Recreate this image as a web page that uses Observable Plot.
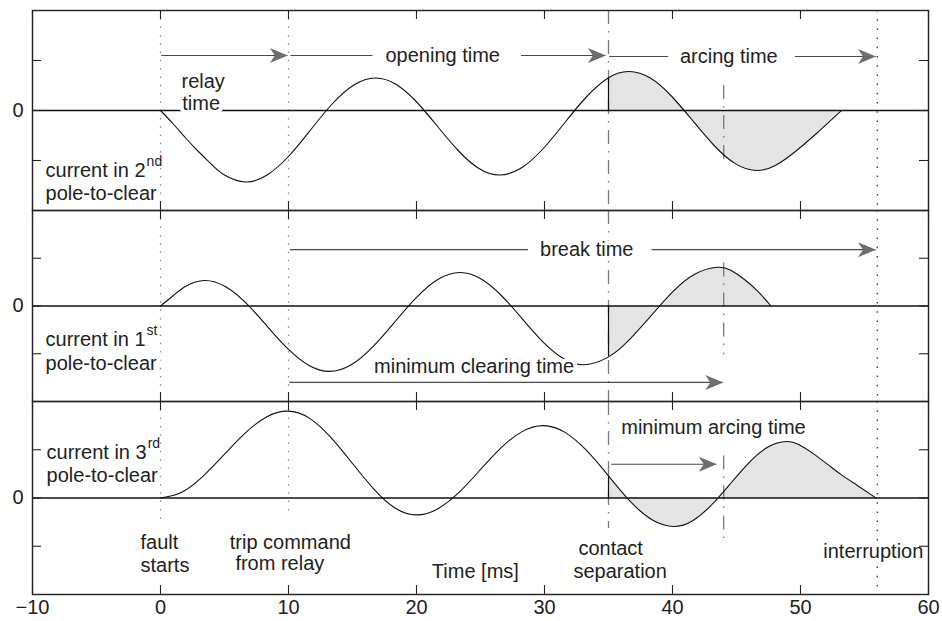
<!DOCTYPE html>
<html><head><meta charset="utf-8">
<script src="https://cdn.jsdelivr.net/npm/d3@7"></script>
<script src="https://cdn.jsdelivr.net/npm/@observablehq/plot@0.6"></script>
<style>
body{margin:0;background:#fff;}
#chart svg{display:block;}
</style></head><body><div id="chart"></div>
<script>
const FONT = "'Liberation Sans', Arial, Helvetica, sans-serif";
const panels = ["2nd", "1st", "3rd"];
const xTicks = [-10, 0, 10, 20, 30, 40, 50, 60];
const yTicks = [-1, 0, 1];
const yLabelTicks = [0];
const xDomain = [-10, 60];
const yDomain = [-2, 2];
const tSep = 35;

// currents (time ms, value)
const pole2T = [0, 1, 2, 3, 4, 5, 6.64, 8.33, 10.03, 11.72, 13.41, 15.11, 16.8, 18.42, 20.03, 21.65, 23.27, 24.88, 26.5, 28.18, 29.87, 31.55, 33.23, 35, 36.6, 38.27, 39.93, 41.6, 43.27, 44.93, 46.6, 48.1, 49.6, 51.2, 53.2];
const pole2V = [0, -0.27, -0.56, -0.83, -1.08, -1.29, -1.43, -1.29, -0.91, -0.39, 0.13, 0.51, 0.65, 0.52, 0.165, -0.32, -0.805, -1.16, -1.29, -1.15, -0.77, -0.255, 0.26, 0.655, 0.78, 0.65, 0.285, -0.21, -0.705, -1.067, -1.2, -1.09, -0.82, -0.47, 0];
const pole1T = [0, 1, 2, 3.43, 5.06, 6.69, 8.32, 9.94, 11.57, 13.2, 14.9, 16.6, 18.3, 20.0, 21.7, 23.4, 25.02, 26.63, 28.25, 29.87, 31.48, 33.1, 35, 36.57, 38.3, 40.03, 41.77, 43.5, 44.55, 45.6, 46.65, 47.7];
const pole1V = [0, 0.22, 0.42, 0.535, 0.41, 0.06, -0.42, -0.894, -1.24, -1.37, -1.23, -0.85, -0.335, 0.18, 0.56, 0.70, 0.57, 0.22, -0.265, -0.75, -1.1, -1.23, -1.065, -0.72, -0.21, 0.30, 0.67, 0.81, 0.75, 0.56, 0.31, 0];
const pole3T = [0, 1.66, 3.31, 4.97, 6.63, 8.28, 9.94, 11.62, 13.29, 14.97, 16.65, 18.32, 20.0, 21.65, 23.3, 24.95, 26.6, 28.25, 29.9, 31.6, 33.3, 35, 36.7, 38.4, 40.1, 41.57, 43.03, 44.5, 45.97, 47.43, 48.9, 50.0, 51.0, 52.2, 53.2, 54.5, 55.9];
const pole3V = [0, 0.12, 0.45, 0.9, 1.35, 1.68, 1.8, 1.656, 1.26, 0.725, 0.19, -0.206, -0.35, -0.226, 0.11, 0.575, 1.04, 1.376, 1.5, 1.36, 0.98, 0.46, -0.07, -0.45, -0.59, -0.47, -0.15, 0.29, 0.73, 1.05, 1.17, 1.09, 0.92, 0.68, 0.48, 0.25, 0];

// event lines
const eventT = [0, 10, 35, 44, 56];
const eventStyle = ["dot", "dot", "dashdot", "dashdot", "dotdark"];
const eventTop2 = [2, 2, 2, 0.5, 2];
const eventBottom2 = [-2, -2, -2, -1.0, -2];
const eventTop1 = [2, 2, 2, 0.9, 2];
const eventBottom1 = [-2, -2, -2, -1.02, -2];
const eventTop3 = [2, 2, 2, 0.87, 2];
const eventBottom3 = [-0.45, -0.4, -0.63, -0.98, -2];

// arrows
const arrows2 = [
  {t1: 0.1, t2: 9.95, v: 1.1, head: true},
  {t1: 10.2, t2: 16.6, v: 1.1, head: false},
  {t1: 28.2, t2: 34.8, v: 1.1, head: true},
  {t1: 35.1, t2: 39.7, v: 1.08, head: false},
  {t1: 49.6, t2: 55.9, v: 1.08, head: true}
];
const arrows1 = [
  {t1: 10.15, t2: 28.75, v: 1.18, head: false},
  {t1: 38.4, t2: 55.9, v: 1.18, head: true},
  {t1: 10.1, t2: 43.97, v: -1.6, head: true}
];
const arrows3 = [
  {t1: 35.25, t2: 43.46, v: 0.70, head: true}
];

// labels
const labels2 = [
  {t: 1.64, v: 0.57, text: "relay", anchor: "start"},
  {t: 1.7, v: 0.14, text: "time", anchor: "start"},
  {t: 22.05, v: 1.1, text: "opening time", anchor: "middle"},
  {t: 44.4, v: 1.08, text: "arcing time", anchor: "middle"},
  {t: -8.98, v: -1.2, text: "current in 2", anchor: "start", sup: "nd"},
  {t: -8.98, v: -1.67, text: "pole-to-clear", anchor: "start"}
];
const labels1 = [
  {t: 33.3, v: 1.18, text: "break time", anchor: "middle"},
  {t: 24.5, v: -1.26, text: "minimum clearing time", anchor: "middle"},
  {t: -8.98, v: -0.71, text: "current in 1", anchor: "start", sup: "st"},
  {t: -8.98, v: -1.21, text: "pole-to-clear", anchor: "start"}
];
const labels3 = [
  {t: 43.2, v: 1.46, text: "minimum arcing time", anchor: "middle"},
  {t: -8.9, v: 0.94, text: "current in 3", anchor: "start", sup: "rd"},
  {t: -8.9, v: 0.46, text: "pole-to-clear", anchor: "start"},
  {t: -1.56, v: -0.915, text: "fault", anchor: "start"},
  {t: -1.56, v: -1.40, text: "starts", anchor: "start"},
  {t: 5.41, v: -0.915, text: "trip command", anchor: "start"},
  {t: 5.85, v: -1.36, text: "from relay", anchor: "start"},
  {t: 24.6, v: -1.53, text: "Time [ms]", anchor: "middle"},
  {t: 32.65, v: -1.05, text: "contact", anchor: "start"},
  {t: 32.26, v: -1.53, text: "separation", anchor: "start"},
  {t: 51.78, v: -1.11, text: "interruption", anchor: "start"}
];

const lineStyles = {
  dot: {stroke: "#8a8a8a", strokeDasharray: "1.5,6.8"},
  dotdark: {stroke: "#333", strokeDasharray: "1.5,7.7"},
  dashdot: {stroke: "#7a7a7a", strokeDasharray: "14,7,1.5,7.5"}
};

const arrowHead = {
  draw(ctx) {
    ctx.moveTo(0, 0);
    ctx.lineTo(-18, -7.5);
    ctx.lineTo(-13, 0);
    ctx.lineTo(-18, 7.5);
    ctx.closePath();
  }
};

const cv = document.createElement("canvas").getContext("2d");
cv.font = "20px " + FONT;
const supDx = cv.measureText("current in 2").width + 1;

const cfg = [
  {T: pole2T, V: pole2V, top: eventTop2, bottom: eventBottom2, arrows: arrows2, labels: labels2, height: 210, mt: 10, mb: 0},
  {T: pole1T, V: pole1V, top: eventTop1, bottom: eventBottom1, arrows: arrows1, labels: labels1, height: 191, mt: 0, mb: 0},
  {T: pole3T, V: pole3V, top: eventTop3, bottom: eventBottom3, arrows: arrows3, labels: labels3, height: 220, mt: 0, mb: 27}
];

const W = 942, ML = 32, MR = 14;
const textStyle = {fill: "#222", stroke: "white", strokeWidth: 8, paintOrder: "stroke", strokeLinejoin: "round", fontSize: 20};

cfg.forEach((p, idx) => {
  const last = idx === cfg.length - 1;
  const data = p.T.map((t, i) => ({t, v: p.V[i]}));
  const after = data.filter(d => d.t >= tSep);
  const v35 = p.V[p.T.indexOf(tSep)];
  const events = eventT.map((t, i) => ({t, style: eventStyle[i], v1: p.top[i], v2: p.bottom[i]}));
  const plotH = p.height - p.mt - p.mb;
  const tickY = 9 / (plotH / (yDomain[1] - yDomain[0]));
  const tickX = 9 / ((W - ML - MR) / (xDomain[1] - xDomain[0]));
  const marks = [
    Plot.areaY(after, {x: "t", y1: 0, y2: "v", curve: "natural", fill: "#e4e4e4"}),
    ...Object.keys(lineStyles).map(s => Plot.ruleX(events.filter(e => e.style === s), {x: "t", y1: "v1", y2: "v2", strokeWidth: 1.3, ...lineStyles[s]})),
    Plot.ruleY([0], {stroke: "#111", strokeWidth: 1.3}),
    Plot.ruleX([{t: tSep, v: v35}], {x: "t", y1: 0, y2: "v", stroke: "#111", strokeWidth: 1.2}),
    Plot.line(data, {x: "t", y: "v", curve: "natural", stroke: "#111", strokeWidth: 1.1}),
    Plot.ruleY(p.arrows, {y: "v", x1: "t1", x2: "t2", stroke: "#4a4a4a", strokeWidth: 1.2}),
    Plot.text(p.labels.filter(d => d.anchor === "start"), {x: "t", y: "v", text: "text", textAnchor: "start", ...textStyle}),
    Plot.text(p.labels.filter(d => d.anchor === "middle"), {x: "t", y: "v", text: "text", textAnchor: "middle", ...textStyle}),
    Plot.text(p.labels.filter(d => d.sup), {x: "t", y: "v", text: "sup", textAnchor: "start", dx: supDx, dy: -9, fill: "#222", fontSize: 14}),
    Plot.dot(p.arrows.filter(d => d.head), {x: "t2", y: "v", symbol: arrowHead, fill: "#6e6e6e", stroke: "none"}),
    Plot.ruleX(xTicks, {x: d => d, y1: yDomain[1], y2: yDomain[1] - tickY, stroke: "#222", strokeWidth: 1.1}),
    Plot.ruleX(xTicks, {x: d => d, y1: yDomain[0], y2: yDomain[0] + tickY, stroke: "#222", strokeWidth: 1.1}),
    Plot.ruleY(yTicks, {y: d => d, x1: xDomain[0], x2: xDomain[0] + tickX, stroke: "#222", strokeWidth: 1.1}),
    Plot.ruleY(yTicks, {y: d => d, x1: xDomain[1] - tickX, x2: xDomain[1], stroke: "#222", strokeWidth: 1.1}),
    Plot.frame({stroke: "#222", strokeWidth: 1.4})
  ];
  const chart = Plot.plot({
    width: W, height: p.height,
    marginTop: p.mt, marginBottom: p.mb, marginLeft: ML, marginRight: MR,
    style: {fontFamily: FONT, fontSize: "20px", color: "#222", overflow: "visible", background: "white"},
    x: {domain: xDomain, axis: last ? "bottom" : null, ticks: xTicks, tickSize: 0, tickPadding: 5, label: null},
    y: {domain: yDomain, ticks: yLabelTicks, tickFormat: d => String(d), tickSize: 0, tickPadding: 9, label: null},
    marks
  });
  document.getElementById("chart").appendChild(chart);
});
</script></body></html>
